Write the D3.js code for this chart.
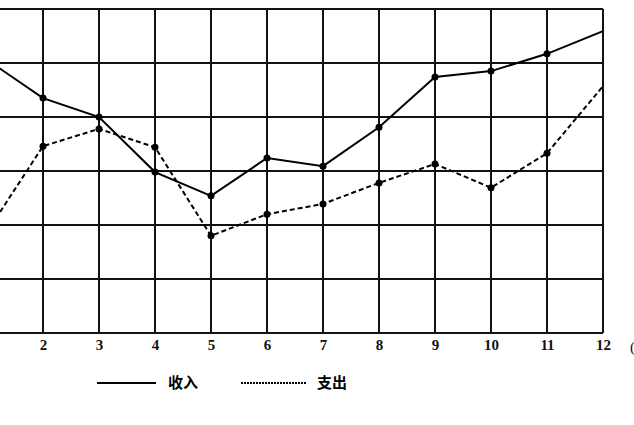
<!DOCTYPE html>
<html>
<head>
<meta charset="utf-8">
<script src="https://cdn.jsdelivr.net/npm/d3@7"></script>
<style>
  body { margin: 0; background: #fff; }
  svg { display: block; }
</style>
</head>
<body>
<svg id="chart"></svg>
<script>
// data (one grid step = 1 unit)
const months = [1, 2, 3, 4, 5, 6, 7, 8, 9, 10, 11, 12]
const income = [5.06, 4.35, 4.0, 2.98, 2.54, 3.24, 3.09, 3.81, 4.74, 4.85, 5.17, 5.59]
const expense = [1.87, 3.46, 3.78, 3.44, 1.80, 2.20, 2.39, 2.78, 3.13, 2.69, 3.33, 4.57]
const yTicks = [0, 1, 2, 3, 4, 5, 6]
const legendLabels = ["收入", "支出"]
const unitLabel = "(月)"

const W = 634, H = 425

const svg = d3.select("#chart")
    .attr("width", W)
    .attr("height", H)

// month 1 sits just left of the visible window
const x = d3.scaleLinear().domain([1, 12]).range([-13, 603])
const y = d3.scaleLinear().domain([0, 6]).range([333, 9])

// grid
const grid = svg.append("g").attr("stroke", "#111").attr("stroke-width", 2)
grid.selectAll(".v")
    .data(months)
    .join("line")
    .attr("x1", d => x(d)).attr("x2", d => x(d))
    .attr("y1", y(6)).attr("y2", y(0))
grid.selectAll(".h")
    .data(yTicks)
    .join("line")
    .attr("x1", x(1)).attr("x2", x(12))
    .attr("y1", d => y(d)).attr("y2", d => y(d))

// x tick labels (the "1" falls outside the window, so skip it)
const xaxis = d3.axisBottom(x).tickValues(months.slice(1)).tickSize(0).tickPadding(6)
const ax = svg.append("g")
    .attr("transform", `translate(0,${y(0)})`)
    .call(xaxis)
ax.select(".domain").remove()
ax.selectAll("text")
    .attr("font-family", "Liberation Serif, serif")
    .attr("font-size", 15)
    .attr("font-weight", "bold")
    .attr("fill", "#111")

svg.append("text")
    .attr("x", x(12) + 27)
    .attr("y", y(0) + 19)
    .attr("font-family", "Liberation Serif, serif")
    .attr("font-size", 15)
    .attr("fill", "#111")
    .text(unitLabel)

// lines
const line = d3.line().x((d, i) => x(months[i])).y(d => y(d))

svg.append("path")
    .datum(income)
    .attr("d", line)
    .attr("fill", "none")
    .attr("stroke", "#000")
    .attr("stroke-width", 2)

svg.append("path")
    .datum(expense)
    .attr("d", line)
    .attr("fill", "none")
    .attr("stroke", "#000")
    .attr("stroke-width", 2)
    .attr("stroke-dasharray", "5,3")

// dots (none drawn on the right border)
const dotted = months.slice(0, 11)
svg.selectAll(".dotI")
    .data(dotted)
    .join("circle")
    .attr("cx", d => x(d))
    .attr("cy", (d, i) => y(income[i]))
    .attr("r", 3.5)
    .attr("fill", "#000")
svg.selectAll(".dotE")
    .data(dotted)
    .join("circle")
    .attr("cx", d => x(d))
    .attr("cy", (d, i) => y(expense[i]))
    .attr("r", 3.5)
    .attr("fill", "#000")

// legend
const legend = svg.append("g").attr("transform", "translate(0,383)")
legend.append("line")
    .attr("x1", 97).attr("x2", 156)
    .attr("stroke", "#000").attr("stroke-width", 2)
legend.append("text")
    .attr("x", 168).attr("y", 5)
    .attr("font-family", "Noto Sans CJK SC")
    .attr("font-size", 15)
    .attr("font-weight", "bold")
    .text(legendLabels[0])
legend.append("line")
    .attr("x1", 241).attr("x2", 307)
    .attr("stroke", "#000").attr("stroke-width", 2)
    .attr("stroke-dasharray", "2,1")
legend.append("text")
    .attr("x", 317).attr("y", 5)
    .attr("font-family", "Noto Sans CJK SC")
    .attr("font-size", 15)
    .attr("font-weight", "bold")
    .text(legendLabels[1])
</script>
</body>
</html>
